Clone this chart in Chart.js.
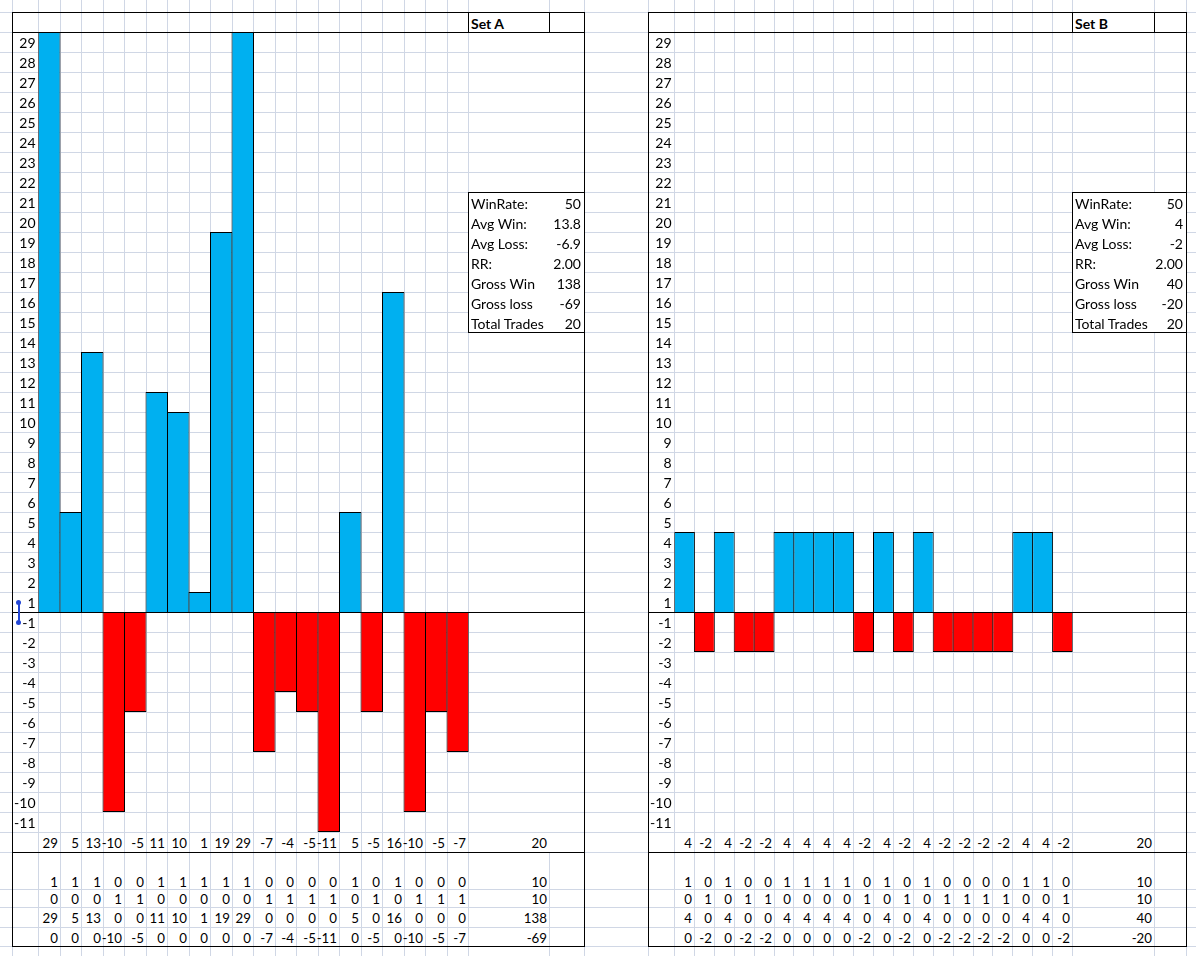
<!DOCTYPE html>
<html>
<head>
<meta charset="utf-8">
<title>Set A / Set B</title>
<script src="https://cdn.jsdelivr.net/npm/chart.js@4.4.0/dist/chart.umd.min.js"></script>
<style>
  html, body { margin: 0; padding: 0; background: #fff; }
  #sheet { position: relative; width: 1196px; height: 956px; overflow: hidden;
           font-family: Lato, "Noto Sans", sans-serif; font-size: 14px; color: #000; }
  .g { position: absolute; background: #d0d7e5; z-index: 0; }
  .box { position: absolute; background: #fff; z-index: 1; }
  canvas { position: absolute; z-index: 2; }
  .b { position: absolute; background: #000; z-index: 3; }
  .t { position: absolute; z-index: 4; white-space: nowrap; box-sizing: border-box; padding: 0 3px; }
  .t.n { font-size: 13.3px; padding: 0 2px; }
</style>
</head>
<body>
<div id="sheet"></div>
<script>
// data
const trades = ['1', '2', '3', '4', '5', '6', '7', '8', '9', '10',
                '11', '12', '13', '14', '15', '16', '17', '18', '19', '20'];
const setA = [29, 5, 13, -10, -5, 11, 10, 1, 19, 29, -7, -4, -5, -11, 5, -5, 16, -10, -5, -7];
const setB = [4, -2, 4, -2, -2, 4, 4, 4, 4, -2, 4, -2, 4, -2, -2, -2, -2, 4, 4, -2];
const statLabels = ['WinRate:', 'Avg Win:', 'Avg Loss:', 'RR:', 'Gross Win', 'Gross loss', 'Total Trades'];
const yMax = 29;
const yMin = -11;

const BLUE = '#00b0f0';
const RED = '#ff0000';

// sheet layout (pixels)
const ROW = 20;
const TOP = 32;                 // top of the plot rows
const ZERO = TOP + yMax * ROW;  // 612
const panels = [
    { name: 'Set A', values: setA, left: 12, plotLeft: 38.5, step: 21.5, colEnd: 549, right: 584, innerLine: false },
    { name: 'Set B', values: setB, left: 648, plotLeft: 674.5, step: 19.9, colEnd: 1154, right: 1186, innerLine: true }
];
const bottomRows = [[832, 852], [872, 889], [889, 907], [907, 927], [927, 946]];

const sheet = document.getElementById('sheet');

function el(cls, x, y, w, h) {
    const d = document.createElement('div');
    d.className = cls;
    d.style.left = x + 'px';
    d.style.top = y + 'px';
    d.style.width = w + 'px';
    d.style.height = h + 'px';
    sheet.appendChild(d);
    return d;
}
function text(str, x1, x2, y1, y2, align, bold, cls) {
    const d = el(cls || 't', x1, y1, x2 - x1, y2 - y1);
    d.style.lineHeight = (y2 - y1 + 3) + 'px';
    d.style.textAlign = align;
    if (bold) d.style.fontWeight = 'bold';
    d.textContent = str;
}
const sum = arr => arr.reduce((a, b) => a + b, 0);
const fmt1 = x => String(Math.round(x * 10) / 10);

// excel grid: rows
const rowLines = [];
for (let y = 12; y <= 852; y += ROW) rowLines.push(y);
bottomRows.slice(1).forEach(r => rowLines.push(r[1]));
rowLines.forEach(y => el('g', 0, y, 1196, 1));

// excel grid: columns
const colLines = [];
panels.forEach(p => {
    colLines.push([p.left, 0, 956]);
    colLines.push([Math.floor(p.plotLeft), 0, 956]);
    for (let i = 1; i <= trades.length; i++) colLines.push([Math.floor(p.plotLeft + p.step * i), 0, 956]);
    if (p.innerLine) {
        colLines.push([p.colEnd, 0, 956]);
    } else {
        colLines.push([p.colEnd, 0, TOP]);
        colLines.push([p.colEnd, 852, 956 - 852]);
    }
    colLines.push([p.right, 0, 956]);
});
colLines.forEach(c => el('g', c[0], c[1], 1, c[2]));

function makeChart(p) {
    const canvas = document.createElement('canvas');
    const w = Math.ceil(p.plotLeft + p.step * trades.length) - p.left;
    canvas.width = w;
    canvas.height = (yMax - yMin) * ROW;
    canvas.style.left = p.left + 'px';
    canvas.style.top = TOP + 'px';
    sheet.appendChild(canvas);
    const axisW = p.plotLeft - p.left;
    const padRight = w - axisW - p.step * trades.length;
    return new Chart(canvas, {
        type: 'bar',
        data: {
            labels: trades,
            datasets: [{
                label: p.name,
                data: p.values,
                backgroundColor: p.values.map(v => v > 0 ? BLUE : RED),
                borderColor: '#000',
                borderWidth: 1,
                borderSkipped: 'start',
                barThickness: p.step + 1,
                inflateAmount: 0
            }]
        },
        options: {
            responsive: false,
            animation: false,
            events: [],
            layout: { padding: { left: 0, right: padRight, top: 0, bottom: 0 } },
            plugins: {
                legend: { display: false },
                tooltip: { enabled: false }
            },
            scales: {
                x: { type: 'category', display: false, offset: true, grid: { display: false } },
                y: {
                    min: yMin,
                    max: yMax,
                    grid: { display: false, drawTicks: false },
                    border: { display: false },
                    ticks: {
                        stepSize: 1,
                        autoSkip: false,
                        labelOffset: ROW / 2 + 1.5,
                        padding: 3,
                        color: '#000',
                        font: { family: 'Lato', size: 14 },
                        // row labels sit between lines: skip zero like the sheet does
                        callback: v => v === yMin ? '' : (v >= 1 ? String(v) : String(v - 1))
                    },
                    afterFit: s => { s.width = axisW; s.paddingTop = 0; s.paddingBottom = 0; }
                }
            }
        }
    });
}

panels.forEach(p => {
    const vals = p.values;
    const hdrLeft = Math.floor(p.plotLeft + p.step * trades.length);

    makeChart(p);

    // borders
    el('b', p.left, 12, p.right - p.left + 1, 1);
    el('b', p.left, TOP, p.right - p.left + 1, 1);
    el('b', p.left, 852, p.right - p.left + 1, 1);
    el('b', p.left, 946, p.right - p.left + 1, 1);
    el('b', p.left, ZERO, p.right - p.left + 1, 1);
    el('b', p.left, 12, 1, 946 - 12);
    el('b', p.right, 12, 1, 946 - 12 + 1);
    el('b', hdrLeft, 12, 1, TOP - 12);
    el('b', p.colEnd, 12, 1, TOP - 12);
    text(p.name, hdrLeft, p.colEnd, 12, TOP, 'left', true);

    // stats box
    const wins = vals.filter(v => v > 0);
    const losses = vals.filter(v => v < 0);
    const grossWin = sum(wins);
    const grossLoss = sum(losses);
    const avgWin = grossWin / wins.length;
    const avgLoss = grossLoss / losses.length;
    const stats = [
        fmt1(wins.length / vals.length * 100),
        fmt1(avgWin),
        fmt1(avgLoss),
        (avgWin / -avgLoss).toFixed(2),
        String(grossWin),
        String(grossLoss),
        String(vals.length)
    ];
    const boxTop = TOP + (yMax - 21) * ROW;  // row of 21
    const bx = el('box', hdrLeft, boxTop, p.right - hdrLeft + 1, statLabels.length * ROW + 1);
    bx.style.boxSizing = 'border-box';
    bx.style.border = '1px solid #000';
    statLabels.forEach((lab, k) => {
        const y = boxTop + k * ROW;
        text(lab, hdrLeft, p.right, y, y + ROW, 'left');
        text(stats[k], hdrLeft, p.right, y, y + ROW, 'right');
    });

    // rows under the plot
    const rows = [
        [vals, vals.length],
        [vals.map(v => v > 0 ? 1 : 0), wins.length],
        [vals.map(v => v < 0 ? 1 : 0), losses.length],
        [vals.map(v => v > 0 ? v : 0), grossWin],
        [vals.map(v => v < 0 ? v : 0), grossLoss]
    ];
    rows.forEach((r, k) => {
        const [y1, y2] = bottomRows[k];
        r[0].forEach((v, i) => {
            const x1 = Math.floor(p.plotLeft + p.step * i);
            const x2 = Math.floor(p.plotLeft + p.step * (i + 1));
            text(String(v), x1 - 6, x2, y1, y2, 'right', false, 't n');
        });
        text(String(r[1]), hdrLeft, p.colEnd, y1, y2, 'right', false, 't n');
    });
});

// little blue handle at the zero line (selection marker)
const hc = '#2246d6';
const h1 = el('b', 16, 600, 5, 5); h1.style.background = hc; h1.style.borderRadius = '50%';
const h2 = el('b', 16, 620, 5, 5); h2.style.background = hc; h2.style.borderRadius = '50%';
const h3 = el('b', 18, 603, 1.5, 19); h3.style.background = hc;
</script>
</body>
</html>
